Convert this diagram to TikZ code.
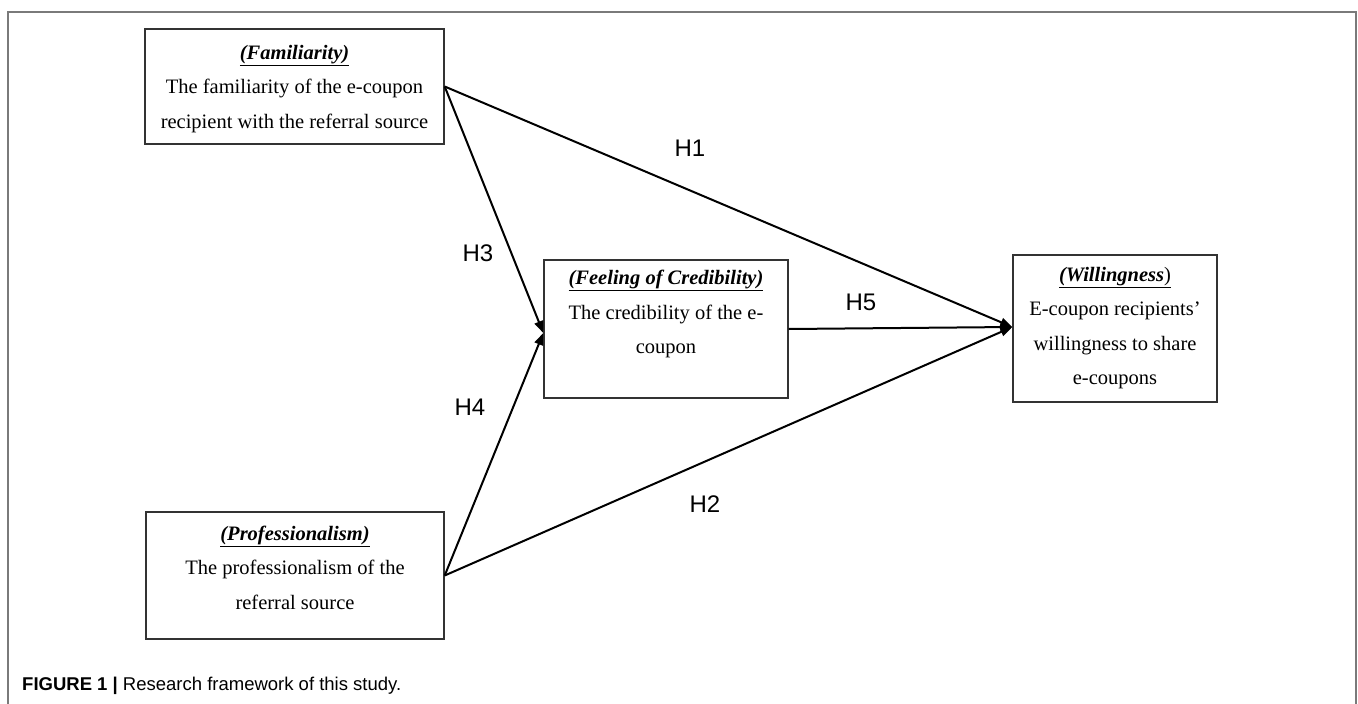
\documentclass[tikz,border=0pt]{standalone}
\usepackage{fontspec}
\setmainfont{Liberation Serif}
\newfontfamily\arialf{Liberation Sans}
\usetikzlibrary{arrows.meta}
\definecolor{boxline}{HTML}{333333}
\definecolor{framegray}{HTML}{7A7A7A}
\newcommand{\hdr}[1]{\underline{\textbf{\textit{#1}}}}
\begin{document}
\begin{tikzpicture}[x=1pt,y=-1pt,
  boxst/.style={draw=boxline,line width=1.4pt,rectangle,inner sep=0pt},
  txt/.style={align=center,font=\fontsize{20.5}{34.5}\selectfont,inner sep=0pt},
  hyp/.style={font=\arialf\fontsize{24}{28}\selectfont,inner sep=0pt},
  arr/.style={line width=2pt,-{Triangle[length=12pt,width=9pt]}},
  ]
\useasboundingbox (0,0) rectangle (1358,704);
% outer frame (top, left, right)
\draw[framegray,line width=1.6pt] (8,704) -- (8,12) -- (1356,12) -- (1356,704);

% boxes
\node[boxst,minimum width=299pt,minimum height=115pt] (fam) at (294.5,86.5) {};
\node[boxst,minimum width=244pt,minimum height=138pt] (cred) at (666,329) {};
\node[boxst,minimum width=204pt,minimum height=147pt] (will) at (1115,328.5) {};
\node[boxst,minimum width=298pt,minimum height=127pt] (prof) at (295,575.5) {};

% box texts
\node[txt] (famt) at (294.5,89) {\hdr{(Familiarity)}\\The familiarity of the e-coupon\\recipient with the referral source};
\node[txt] (credt) at (666,314) {\hdr{(Feeling of Credibility)}\\The credibility of the e-\\coupon};
\node[txt] (willt) at (1115,328) {\underline{\textbf{\textit{(Willingness}})}\\E-coupon recipients'\\willingness to share\\e-coupons};
\node[txt] (proft) at (295,567.5) {\hdr{(Professionalism)}\\The professionalism of the\\referral source};

% anchor points
\coordinate (credin) at ([yshift=-4pt]cred.west);
\coordinate (willin) at ([yshift=1.5pt]will.west);

% connectors
\draw[arr] (fam.east) -- (willin);
\draw[arr] (fam.east) -- (credin);
\draw[arr] (prof.east) -- (credin);
\draw[arr] (prof.east) -- (willin);
\draw[arr] (cred.east) -- (willin);

% hypothesis labels
\node[hyp] (h1) at (690,148) {H1};
\node[hyp] (h3) at (478,253) {H3};
\node[hyp] (h5) at (861,302) {H5};
\node[hyp] (h4) at (470,407) {H4};
\node[hyp] (h2) at (705,504) {H2};

% caption
\node[anchor=west,inner sep=0pt,font=\arialf\fontsize{18.5}{22}\selectfont] (cap) at (22,686) {\textbf{FIGURE 1 |} Research framework of this study.};
\end{tikzpicture}
\end{document}
